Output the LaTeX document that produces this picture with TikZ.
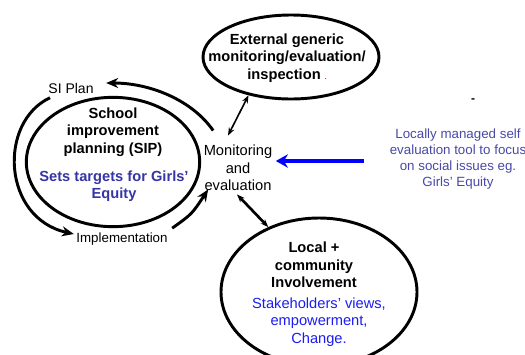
\documentclass[tikz,border=0pt]{standalone}
\usepackage{fontspec}
\setmainfont{Liberation Sans}
\usetikzlibrary{shapes.geometric,arrows.meta}
\definecolor{sipblue}{HTML}{3535A5}
\definecolor{toolblue}{HTML}{4848A8}
\definecolor{localblue}{HTML}{1C1CF0}

\begin{document}
\begin{tikzpicture}[x=0.75pt,y=-0.75pt,
  oval/.style={draw,ellipse,line width=2.2pt,inner sep=0pt},
  heading/.style={font=\bfseries\fontsize{11}{13.1}\selectfont,align=center,inner sep=1pt},
  plain/.style={font=\fontsize{11}{13.1}\selectfont,align=center,inner sep=1pt},
  flow/.style={line width=2.2pt,-{Stealth[length=9pt,width=7.5pt]}},
  link/.style={line width=1.2pt,{Stealth[length=6pt,width=4.5pt]}-{Stealth[length=6pt,width=4.5pt]}}]
\useasboundingbox (0,0) rectangle (525,354);

% Ellipses
\node[oval,minimum width=130pt,minimum height=97pt] (sip) at (113,162) {};
\node[oval,minimum width=132pt,minimum height=63pt] (ext) at (291,57) {};
\node[oval,minimum width=147pt,minimum height=111pt] (local) at (319,292) {};

% Text in the ellipses
\node[heading] (siptitle) at (113,132) {School\\improvement\\planning (SIP)};
\node[heading,text=sipblue] (siptarget) at (114,186) {Sets targets for Girls'\\Equity};
\node[heading] (exttext) at (287,58) {External generic\\monitoring/evaluation/\\inspection {\color{red}\tiny .}};
\node[heading] (localtitle) at (314,265) {Local +\\community\\Involvement};
\node[plain,text=localblue] (localviews) at (319,322) {Stakeholders' views,\\empowerment,\\Change.};

% Labels
\node[font=\fontsize{10.5}{12.5}\selectfont,inner sep=1pt] (siplan) at (71,88) {SI Plan};
\node[font=\fontsize{10}{12}\selectfont,inner sep=1pt] (impl) at (122,239) {Implementation};
\node[plain] (mon) at (238,168) {Monitoring\\and\\evaluation};
\node[font=\fontsize{10}{12}\selectfont,align=center,text=toolblue,inner sep=1pt] (tool) at (458,159)
  {Locally managed self\\evaluation tool to focus\\on social issues eg.\\Girls' Equity};
\node[font=\bfseries\small,inner sep=0pt] (dash) at (473,101) {-};

% SIP cycle
\draw[flow] ([shift={(11,-13)}]mon.north west) .. controls (192,100) and (150,83) .. ([shift={(11,-5)}]siplan.east);
\draw[flow] ([shift={(-21,3)}]siplan.south) .. controls (-2,122) and (2,218) .. ([shift={(-1,-5)}]impl.west);
\draw[flow] ([shift={(3,-3)}]impl.north east) .. controls (192,214) .. ([shift={(6,-3)}]mon.south west);

% Links to monitoring
\draw[link] ([shift={(-10,-8)}]mon.north) -- (ext.222);
\draw[link,line width=2pt] ([shift={(-1,2)}]mon.south) -- (local.128);
\draw[line width=3pt,blue,-{Stealth[length=9pt,width=10pt]}] ([shift={(-24,2)}]tool.west) -- ([shift={(2,-7)}]mon.east);
\end{tikzpicture}
\end{document}
